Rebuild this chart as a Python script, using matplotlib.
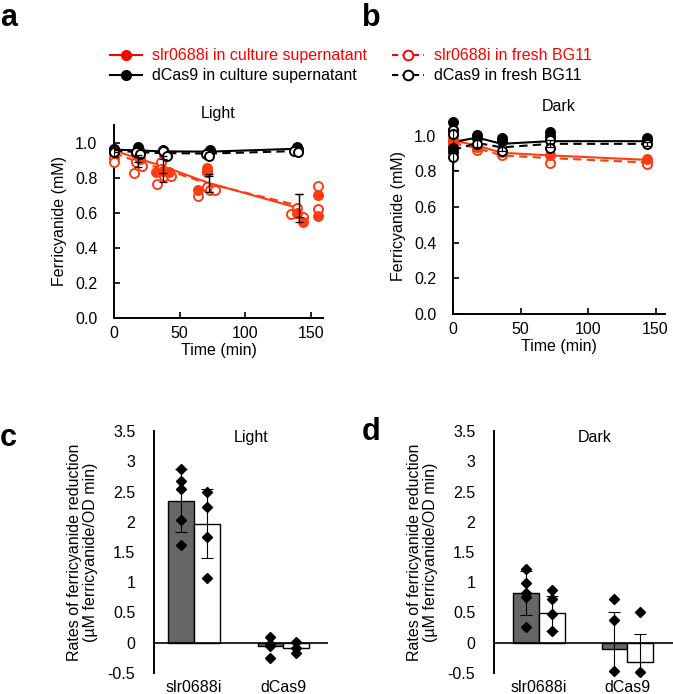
import matplotlib

matplotlib.use("Agg")
import matplotlib.pyplot as plt
from matplotlib.lines import Line2D

plt.rcParams["font.family"] = ["Liberation Sans", "DejaVu Sans"]
plt.rcParams["font.size"] = 11.5

RED = "#ff3c14"
LEGEND_RED = "#ff0000"
INK = "#000000"
BAR_DARK = "#666666"

# panel a, Light: line means at nominal sample times
line_t_a = [0, 18, 37, 72, 141]
sup_slr_a = [0.955, 0.91, 0.865, 0.77, 0.625]
fresh_slr_a = [0.94, 0.89, 0.85, 0.765, 0.64]
sup_dcas_a = [0.96, 0.955, 0.95, 0.948, 0.965]
fresh_dcas_a = [0.955, 0.945, 0.94, 0.937, 0.952]
sup_slr_err_a = [0.01, 0.02, 0.04, 0.05, 0.08]
fresh_slr_err_a = [0.02, 0.03, 0.075, 0.045, 0.065]

# panel a replicates
sup_slr_pts_t_a = [0, 0, 17, 20, 19, 32, 37, 42, 64, 71, 71, 139, 144, 155, 155]
sup_slr_pts_a = [0.965, 0.95, 0.935, 0.907, 0.92, 0.83, 0.84, 0.83, 0.73, 0.856,
                 0.83, 0.60, 0.547, 0.70, 0.58]
fresh_slr_pts_t_a = [0, 0, 0, 15, 17, 21, 33, 36, 36, 38, 43, 64, 71, 71, 73, 77,
                     135, 139, 144, 155, 155]
fresh_slr_pts_a = [0.94, 0.91, 0.89, 0.827, 0.89, 0.866, 0.765, 0.89, 0.85, 0.81,
                   0.81, 0.695, 0.83, 0.746, 0.73, 0.73, 0.595, 0.627, 0.575,
                   0.755, 0.62]
sup_dcas_pts_t_a = [0, 0, 18, 19, 37, 38, 72, 73, 139, 140]
sup_dcas_pts_a = [0.965, 0.955, 0.975, 0.955, 0.955, 0.945, 0.945, 0.955, 0.975, 0.965]
fresh_dcas_pts_t_a = [0, 0, 17, 20, 37, 40, 70, 72, 137, 140]
fresh_dcas_pts_a = [0.955, 0.945, 0.945, 0.935, 0.95, 0.925, 0.935, 0.925, 0.95, 0.945]

# panel b, Dark
line_t_b = [0, 18, 36, 72, 144]
sup_slr_b = [0.975, 0.945, 0.905, 0.89, 0.865]
fresh_slr_b = [0.96, 0.93, 0.89, 0.875, 0.85]
sup_dcas_b = [0.965, 0.99, 0.955, 0.97, 0.97]
fresh_dcas_b = [0.92, 0.96, 0.935, 0.955, 0.955]
fresh_dcas_err_b = [0.11, 0.02, 0.02, 0.02, 0.01]

sup_dcas_pts_t_b = [0, 0, 0, 0, 18, 18, 36, 36, 72, 72, 144, 144]
sup_dcas_pts_b = [1.075, 1.03, 0.93, 0.91, 1.005, 0.99, 0.99, 0.97, 1.02, 1.0, 0.99, 0.975]
fresh_dcas_pts_t_b = [0, 0, 0, 18, 36, 72, 72, 144]
fresh_dcas_pts_b = [1.03, 1.01, 0.88, 0.955, 0.915, 0.975, 0.93, 0.955]
sup_slr_pts_t_b = [0, 0, 18, 36, 72, 144]
sup_slr_pts_b = [0.99, 0.97, 0.94, 0.91, 0.89, 0.87]
fresh_slr_pts_t_b = [0, 0, 18, 36, 72, 144, 144]
fresh_slr_pts_b = [0.96, 0.95, 0.918, 0.89, 0.85, 0.85, 0.84]

# panels c and d: rates of ferricyanide reduction
groups = ["slr0688i", "dCas9"]
light_sup_mean = [2.35, -0.06]
light_sup_sd = [0.52, 0.0]
light_fresh_mean = [1.97, -0.08]
light_fresh_sd = [0.57, 0.0]
light_sup_pts = [[2.87, 2.67, 2.54, 2.03, 1.62], [0.09, -0.02, -0.06, -0.25]]
light_fresh_pts = [[2.49, 2.25, 1.74, 1.07], [0.02, -0.08, -0.17]]
dark_sup_mean = [0.82, -0.10]
dark_sup_sd = [0.36, 0.61]
dark_fresh_mean = [0.49, -0.32]
dark_fresh_sd = [0.29, 0.47]
dark_sup_pts = [[1.22, 0.99, 0.83, 0.76, 0.26], [0.73, 0.37, -0.47]]
dark_fresh_pts = [[0.88, 0.72, 0.48, 0.20], [0.51, -0.48]]

W, H = 673, 694


def px_axes(fig, left, top, right, bottom):
    return fig.add_axes([left / W, 1 - bottom / H, (right - left) / W, (bottom - top) / H])


def style_time(ax, title):
    for side in ("top", "right"):
        ax.spines[side].set_visible(False)
    for side in ("left", "bottom"):
        ax.spines[side].set_linewidth(1.4)
    ax.tick_params(direction="in", length=4, width=1.2)
    ax.tick_params(axis="y", pad=12)
    ax.tick_params(axis="x", pad=6)
    ax.set_ylim(0, 1.1)
    ax.set_yticks([0, 0.2, 0.4, 0.6, 0.8, 1.0])
    ax.set_yticklabels([f"{v:.1f}" for v in [0, 0.2, 0.4, 0.6, 0.8, 1.0]])
    ax.set_xticks([0, 50, 100, 150])
    ax.set_xlabel("Time (min)", labelpad=1)
    ax.set_ylabel("Ferricyanide (mM)", labelpad=6)
    ax.set_title(title, pad=5, fontsize=11.5)


def dots(ax, t, y, color, filled):
    ax.plot(t, y, "o", ms=6.5, mec=color, mfc=color if filled else "white",
            mew=1.4, linestyle="none", clip_on=False, zorder=3)


def time_panel(ax, t, lines, errs, pts):
    for vals, color, ls in lines:
        ax.plot(t, vals, color=color, lw=1.5, linestyle=ls, zorder=2)
    for vals, err in errs:
        ax.errorbar(t, vals, yerr=err, fmt="none", ecolor=INK, elinewidth=0.9,
                    capsize=3, capthick=0.9, zorder=4)
    for pt_t, pt_y, color, filled in pts:
        dots(ax, pt_t, pt_y, color, filled)


def bar_panel(ax, sup_m, sup_sd, fresh_m, fresh_sd, sup_pts, fresh_pts, label, xlim):
    w = 0.29
    xs = range(len(groups))
    x_sup = [x - w / 2 for x in xs]
    x_fresh = [x + w / 2 for x in xs]
    ax.bar(x_sup, sup_m, w, color=BAR_DARK, edgecolor=INK, lw=1.0, zorder=2)
    ax.bar(x_fresh, fresh_m, w, color="white", edgecolor=INK, lw=1.0, zorder=2)
    ax.errorbar(x_sup, sup_m, yerr=sup_sd, fmt="none", ecolor=INK, elinewidth=0.8,
                capsize=4, capthick=0.8, zorder=3)
    ax.errorbar(x_fresh, fresh_m, yerr=fresh_sd, fmt="none", ecolor=INK,
                elinewidth=0.8, capsize=4, capthick=0.8, zorder=3)
    for xc, vals in zip(x_sup, sup_pts):
        ax.plot([xc] * len(vals), vals, "D", color=INK, ms=5.5, linestyle="none",
                clip_on=False, zorder=4)
    for xc, vals in zip(x_fresh, fresh_pts):
        ax.plot([xc] * len(vals), vals, "D", color=INK, ms=5.5, linestyle="none",
                clip_on=False, zorder=4)
    ax.axhline(0, color=INK, lw=1.2, zorder=3)
    for side in ("top", "right", "bottom"):
        ax.spines[side].set_visible(False)
    ax.spines["left"].set_linewidth(1.4)
    ax.set_xlim(*xlim)
    ax.set_ylim(-0.5, 3.5)
    yt = [-0.5, 0, 0.5, 1, 1.5, 2, 2.5, 3, 3.5]
    ax.set_yticks(yt)
    ax.set_yticklabels([f"{v:g}" for v in yt])
    ax.set_yticks([-0.5, 3.5], minor=True)
    ax.tick_params(axis="y", which="major", length=0, pad=13.5, labelsize=11.5)
    ax.tick_params(axis="y", which="minor", direction="in", length=4, width=1.2)
    ax.set_xticks(list(xs))
    ax.set_xticklabels(groups, fontsize=11.5)
    ax.tick_params(axis="x", length=0, pad=5)
    ax.set_ylabel("Rates of ferricyanide reduction\n(\u00b5M ferricyanide/OD min)",
                  labelpad=7, linespacing=1.05)
    ax.text(0.56, 0.975, label, transform=ax.transAxes, ha="center", va="center")


fig = plt.figure(figsize=(W / 100, H / 100), dpi=100)

ax_a = px_axes(fig, 114, 125, 323, 318)
ax_a.set_xlim(0, 159)
time_panel(
    ax_a, line_t_a,
    [(fresh_slr_a, RED, (0, (4, 2.5))), (sup_slr_a, RED, "-"),
     (fresh_dcas_a, INK, (0, (4, 2.5))), (sup_dcas_a, INK, "-")],
    [(sup_slr_a, sup_slr_err_a), (fresh_slr_a, fresh_slr_err_a)],
    [(fresh_slr_pts_t_a, fresh_slr_pts_a, RED, False),
     (sup_slr_pts_t_a, sup_slr_pts_a, RED, True),
     (sup_dcas_pts_t_a, sup_dcas_pts_a, INK, True),
     (fresh_dcas_pts_t_a, fresh_dcas_pts_a, INK, False)],
)
style_time(ax_a, "Light")

ax_b = px_axes(fig, 453, 118, 665, 314)
ax_b.set_xlim(0, 157)
time_panel(
    ax_b, line_t_b,
    [(fresh_slr_b, RED, (0, (4, 2.5))), (sup_slr_b, RED, "-"),
     (fresh_dcas_b, INK, (0, (4, 2.5))), (sup_dcas_b, INK, "-")],
    [(fresh_dcas_b, fresh_dcas_err_b)],
    [(fresh_slr_pts_t_b, fresh_slr_pts_b, RED, False),
     (sup_slr_pts_t_b, sup_slr_pts_b, RED, True),
     (sup_dcas_pts_t_b, sup_dcas_pts_b, INK, True),
     (fresh_dcas_pts_t_b, fresh_dcas_pts_b, INK, False)],
)
style_time(ax_b, "Dark")

ax_c = px_axes(fig, 154, 431, 328, 673)
bar_panel(ax_c, light_sup_mean, light_sup_sd, light_fresh_mean, light_fresh_sd,
          light_sup_pts, light_fresh_pts, "Light", (-0.45, 1.5))

ax_d = px_axes(fig, 494, 431, 673, 673)
bar_panel(ax_d, dark_sup_mean, dark_sup_sd, dark_fresh_mean, dark_fresh_sd,
          dark_sup_pts, dark_fresh_pts, "Dark", (-0.51, 1.52))

handles = [
    Line2D([], [], color=LEGEND_RED, marker="o", ms=7, mfc=LEGEND_RED, lw=1.5),
    Line2D([], [], color=INK, marker="o", ms=7, mfc=INK, lw=1.5),
    Line2D([], [], color=LEGEND_RED, marker="o", ms=7, mfc="white", mew=1.4,
           lw=1.5, linestyle=(0, (3, 2))),
    Line2D([], [], color=INK, marker="o", ms=7, mfc="white", mew=1.4,
           lw=1.5, linestyle=(0, (3, 2))),
]
labels = ["slr0688i in culture supernatant", "dCas9 in culture supernatant",
          "slr0688i in fresh BG11", "dCas9 in fresh BG11"]
fig.legend(handles, labels, loc="upper left", bbox_to_anchor=(104 / W, 1 - 42 / H),
           ncol=2, frameon=False, handlelength=2.0, handletextpad=0.6,
           columnspacing=1.6, labelspacing=0.3, labelcolor="linecolor",
           fontsize=11.5, borderaxespad=0)

for letter, x, y in [("a", 0, 3), ("b", 362, 3), ("c", 0, 423), ("d", 362, 417)]:
    fig.text(x / W, 1 - y / H, letter, fontsize=22, fontweight="bold",
             ha="left", va="top")

fig.savefig("out.png", dpi=100)
